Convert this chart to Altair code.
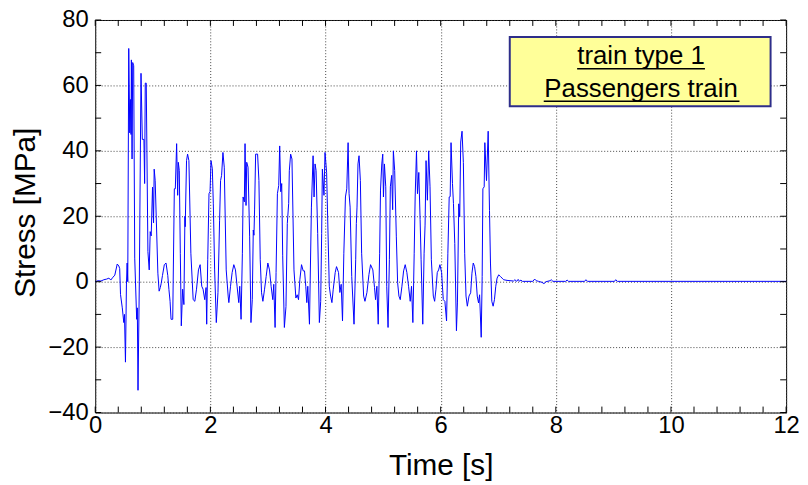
import altair as alt
import pandas as pd

# ---- measured signal (time in s, stress in MPa) ----
time_s = [
    0.00, 0.05, 0.10, 0.15, 0.20, 0.238, 0.27, 0.30, 0.34, 0.382, 0.41, 0.425, 0.439, 0.47, 0.496, 0.508,
    0.525, 0.542, 0.554, 0.565, 0.582, 0.600, 0.611, 0.622, 0.628, 0.640, 0.651, 0.668, 0.686, 0.720,
    0.731, 0.743, 0.766, 0.795, 0.818, 0.846, 0.858, 0.869, 0.886, 0.915, 0.938, 0.955, 0.972, 0.995,
    1.013, 1.024, 1.041, 1.088, 1.110, 1.130, 1.145, 1.168, 1.200, 1.230, 1.260, 1.280,
    1.300, 1.317, 1.346, 1.368, 1.374, 1.391, 1.414, 1.432, 1.443, 1.460, 1.478, 1.495, 1.518, 1.540,
    1.558, 1.563, 1.586, 1.604, 1.627, 1.661, 1.701, 1.730, 1.759, 1.793, 1.822, 1.850, 1.873, 1.902,
    1.925, 1.936, 1.954, 1.976, 1.994, 2.011, 2.034, 2.051, 2.074, 2.103, 2.132, 2.160, 2.177, 2.195,
    2.218, 2.241, 2.275, 2.309, 2.321, 2.350, 2.378, 2.407, 2.436, 2.464, 2.493,
    2.510, 2.533, 2.556, 2.568, 2.590, 2.602, 2.619, 2.631, 2.654, 2.682, 2.705, 2.728, 2.745, 2.757,
    2.768, 2.786, 2.820, 2.843, 2.866, 2.889, 2.912, 2.941, 2.969, 2.998, 3.027, 3.055, 3.084, 3.101,
    3.124, 3.141, 3.164, 3.187, 3.204, 3.222, 3.239, 3.256, 3.285, 3.313, 3.336, 3.360, 3.371, 3.394,
    3.417, 3.452, 3.485, 3.508, 3.531, 3.554, 3.583, 3.612, 3.635, 3.657, 3.675, 3.692, 3.721,
    3.755, 3.784, 3.801, 3.818, 3.836, 3.864, 3.893, 3.916, 3.933, 3.945, 3.973, 3.991, 4.019, 4.042,
    4.065, 4.088, 4.111, 4.134, 4.168, 4.191, 4.226, 4.249, 4.272, 4.295, 4.318, 4.346, 4.369, 4.392,
    4.409, 4.427, 4.455, 4.495, 4.524, 4.535, 4.547, 4.564, 4.582, 4.605, 4.627, 4.662, 4.685, 4.719,
    4.754, 4.782, 4.822, 4.851, 4.869, 4.892, 4.915, 4.940, 4.955, 4.977,
    4.994, 5.006, 5.023, 5.046, 5.063, 5.086, 5.109, 5.126, 5.149, 5.166, 5.178, 5.201, 5.230, 5.252,
    5.275, 5.298, 5.327, 5.356, 5.384, 5.413, 5.442, 5.471, 5.494, 5.517, 5.540, 5.557, 5.580, 5.597,
    5.620, 5.643, 5.660, 5.689, 5.712, 5.729, 5.746, 5.769, 5.792, 5.815, 5.838, 5.872, 5.895, 5.918,
    5.941, 5.964, 5.987, 6.016, 6.045, 6.073, 6.102, 6.125, 6.148, 6.165, 6.180, 6.205, 6.222, 6.245,
    6.274, 6.291, 6.314, 6.331, 6.348, 6.371, 6.394, 6.417, 6.440, 6.463, 6.492, 6.521, 6.543, 6.566,
    6.589, 6.612, 6.635, 6.658, 6.676, 6.704, 6.721, 6.733, 6.756, 6.767, 6.796, 6.825, 6.848, 6.865,
    6.888, 6.911, 6.934, 6.957, 6.980, 7.008, 7.037, 7.066, 7.094, 7.152, 7.266,
    7.289, 7.320, 7.346, 7.370, 7.392, 7.420, 7.600, 7.633, 7.660, 7.700, 7.760, 7.794, 7.830, 7.900,
    7.920, 7.950, 8.170, 8.196, 8.220, 8.500, 8.523, 8.550, 9.020, 9.040, 9.070, 12.000,
]
stress_mpa = [
    0.0, 0.3, 0.2, 0.6, 0.8, 1.1, 0.5, 1.2, 2.0, 5.4, 4.8, 4.0, -3.9, -8.0, -12.5, -10.0,
    -24.6, -1.0, 5.7, 0.0, 71.3, 45.5, 55.7, 45.0, 67.8, 37.5, 67.0, 66.0, 7.2, -11.5,
    -8.0, -33.2, 0.0, 63.7, 43.5, 43.5, 30.0, 60.7, 60.7, 9.2, 3.6, 15.3, 14.0, 28.9,
    18.0, 34.4, 31.0, 2.6, -2.9, -1.8, -0.6, 1.9, 5.2, 5.7, 1.9, -2.4,
    -6.0, -11.5, -11.5, 19.8, 28.4, 28.4, 42.2, 26.4, 36.5, 34.0, 8.7, -13.5, -2.3, -7.0,
    20.0, 16.8, 37.0, 39.0, 37.0, 8.7, -5.5, -6.0, -2.3, 3.6, 5.2, -1.4, -2.3, -5.5,
    -1.8, -13.0, 6.7, 26.9, 27.5, 37.0, 34.5, 23.8, 3.6, -12.5, -3.3, 18.8, 30.9, 32.5,
    39.5, 35.0, 3.6, -4.4, -6.4, -1.4, 2.8, 5.2, 3.6, -1.4, -6.4,
    -1.4, -11.5, 8.7, 25.9, 24.4, 42.2, 23.3, 36.5, 35.0, 13.7, -12.5, -5.5, 15.8, 14.2,
    22.2, 39.0, 39.0, 30.9, 6.7, -3.4, -6.0, -2.3, 1.6, 5.7, 3.6, -1.4, -5.5, -0.8,
    -14.0, 2.8, 26.9, 29.4, 41.5, 27.5, 30.0, 7.9, -14.0, -7.6, 17.8, 23.9, 33.9, 39.0,
    37.5, 3.6, -5.0, -4.0, -5.5, 0.6, 5.2, 3.3, 3.3, -1.4, -6.4, -1.4, -13.0,
    22.8, 38.5, 25.9, 36.0, 34.0, 14.7, -12.5, -6.0, 14.7, 34.4, 26.4, 39.5, 33.4, 15.8,
    -1.4, -4.4, -6.4, -2.3, 2.8, 4.6, 2.8, -3.3, -0.8, -12.0, 8.7, 25.9, 28.4, 42.5,
    26.9, 22.8, 1.6, -13.0, 6.7, 17.8, 22.8, 36.0, 38.5, 30.9, 8.7, -4.4, -6.0, -3.3,
    2.2, 5.2, 3.6, -1.8, -5.5, -1.4, -13.0, 8.7, 28.0, 36.0,
    39.0, 25.9, 36.0, 29.0, -1.4, -14.0, 6.7, 29.0, 32.5, 22.0, 40.0, 34.0, 13.7, -0.3,
    -4.4, -5.5, -1.4, 3.3, 5.2, 2.8, -1.4, -6.0, -1.4, -12.5, 8.7, 25.9, 40.0, 26.9,
    33.4, 19.0, 6.7, -13.0, 8.7, 17.3, 37.0, 24.9, 40.0, 29.0, 6.7, -4.4, -6.0, -2.3,
    2.8, 3.6, 5.2, 2.8, -5.5, -6.0, -12.0, 8.7, 25.9, 26.0, 42.5, 30.0, 23.9, 11.7,
    -15.0, -6.5, 23.8, 19.8, 42.7, 46.0, 36.4, 8.7, -4.4, -7.5, -4.4, -3.4, 2.6, 5.7,
    4.6, 1.6, -4.4, -6.5, -4.0, -17.0, 1.6, 28.4, 29.0, 42.5, 30.9, 46.0, 21.8, 5.7,
    -6.0, -7.5, -5.5, -1.4, 1.1, 2.1, 1.6, 1.1, 0.6, 0.4, 0.2,
    0.6, 0.1, 0.7, 0.1, 0.5, 0.1, 0.1, 0.8, 0.3, 0.1, -0.2, -0.6, 0.0, 0.3,
    0.6, 0.1, 0.1, 0.5, 0.1, 0.1, 0.6, 0.1, 0.1, 0.6, 0.1, 0.1,
]

# ---- axes ----
x_major = [0, 2, 4, 6, 8, 10, 12]
y_major = [-40, -20, 0, 20, 40, 60, 80]
x_all_ticks = [0, 0.4, 0.8, 1.2, 1.6, 2, 2.4, 2.8, 3.2, 3.6, 4, 4.4, 4.8, 5.2, 5.6, 6,
               6.4, 6.8, 7.2, 7.6, 8, 8.4, 8.8, 9.2, 9.6, 10, 10.4, 10.8, 11.2, 11.6, 12]
y_all_ticks = [-40, -30, -20, -10, 0, 10, 20, 30, 40, 50, 60, 70, 80]
x_title = "Time [s]"
y_title = "Stress [MPa]"

# ---- annotation box ----
legend_lines = ["train type 1", "Passengers train"]

FONT = "Liberation Sans"
W, H = 697, 396
TICK = 6

df = pd.DataFrame({"t": time_s, "s": stress_mpa})
one = pd.DataFrame({"k": [0]})

xs = alt.Scale(domain=[0, 12], nice=False, zero=False)
ys = alt.Scale(domain=[-40, 80], nice=False, zero=False)

line = alt.Chart(df).mark_line(color="#0000FF", strokeWidth=1).encode(
    x=alt.X("t:Q", scale=xs, axis=alt.Axis(
        values=x_major, format="d", title=x_title, labelFlush=False, labelOverlap=False,
        labelPadding=1, titleX=W / 2, titleY=63, titleBaseline="alphabetic",
        titleAlign="center")),
    y=alt.Y("s:Q", scale=ys, axis=alt.Axis(
        values=y_major, format="d", title=y_title, labelFlush=False, labelOverlap=False,
        labelPadding=7, titleAngle=270, titleX=-61, titleY=194,
        titleAlign="center", titleBaseline="alphabetic")),
)

ytick_df = pd.DataFrame({"v": y_all_ticks})
xtick_df = pd.DataFrame({"v": x_all_ticks})

left_ticks = alt.Chart(ytick_df).mark_rule(color="black", strokeWidth=1, x2Offset=TICK).encode(
    x=alt.datum(0), x2=alt.datum(0), y=alt.Y("v:Q"))
right_ticks = alt.Chart(ytick_df).mark_rule(color="black", strokeWidth=1, x2Offset=-TICK).encode(
    x=alt.datum(12), x2=alt.datum(12), y=alt.Y("v:Q"))
bottom_ticks = alt.Chart(xtick_df).mark_rule(color="black", strokeWidth=1, y2Offset=-TICK).encode(
    x=alt.X("v:Q"), y=alt.datum(-40), y2=alt.datum(-40))
top_ticks = alt.Chart(xtick_df).mark_rule(color="black", strokeWidth=1, y2Offset=TICK).encode(
    x=alt.X("v:Q"), y=alt.datum(80), y2=alt.datum(80))

box = alt.Chart(one).mark_rect(fill="#FFFF99", stroke="#2E2E8A", strokeWidth=2).encode(
    x=alt.datum(7.2), x2=alt.datum(11.73), y=alt.datum(74.8), y2=alt.datum(53.6))

txt1 = alt.Chart(one).mark_text(
    text=legend_lines[0], font=FONT, fontSize=26, color="black",
    align="center", baseline="alphabetic").encode(x=alt.datum(9.48), y=alt.datum(66.4))
txt2 = alt.Chart(one).mark_text(
    text=legend_lines[1], font=FONT, fontSize=26, color="black",
    align="center", baseline="alphabetic").encode(x=alt.datum(9.48), y=alt.datum(56.4))
ul1 = alt.Chart(one).mark_rule(color="black", strokeWidth=1.5).encode(
    x=alt.datum(8.37), x2=alt.datum(10.59), y=alt.datum(65.06))
ul2 = alt.Chart(one).mark_rule(color="black", strokeWidth=1.5).encode(
    x=alt.datum(7.79), x2=alt.datum(11.19), y=alt.datum(55.15))

chart = alt.layer(
    line, left_ticks, right_ticks, bottom_ticks, top_ticks, box, txt1, txt2, ul1, ul2
).properties(
    width=W, height=H,
    autosize=alt.AutoSizeParams(type="none"),
    padding={"left": 88, "top": 10, "right": 14, "bottom": 70},
    background="white",
).configure_view(
    stroke="black", strokeWidth=1
).configure_axis(
    domain=False, ticks=False, grid=True,
    gridColor="#444444", gridDash=[1, 2], gridWidth=1, gridOpacity=1,
    labelFont=FONT, labelFontSize=24, labelColor="black",
    titleFont=FONT, titleFontSize=30, titleColor="black", titleFontWeight="normal",
)

chart.save("out.html", embed_options={"renderer": "svg", "actions": False})
